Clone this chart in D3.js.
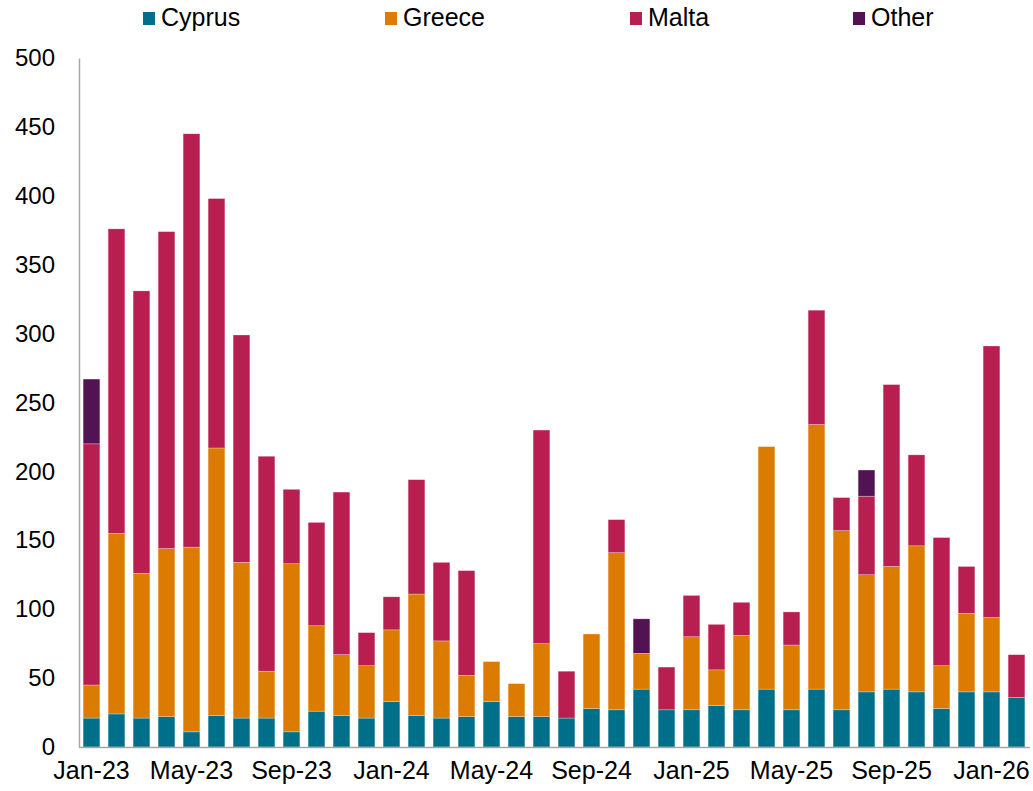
<!DOCTYPE html>
<html>
<head>
<meta charset="utf-8">
<script src="https://cdn.jsdelivr.net/npm/d3@7"></script>
<style>
  html, body { margin: 0; padding: 0; background: #fff; }
  svg { display: block; font-family: "Liberation Sans", Arial, sans-serif; }
</style>
</head>
<body>
<svg id="chart" width="1033" height="791"></svg>
<script>
const months = ["Jan-23","Feb-23","Mar-23","Apr-23","May-23","Jun-23","Jul-23","Aug-23","Sep-23","Oct-23","Nov-23","Dec-23",
  "Jan-24","Feb-24","Mar-24","Apr-24","May-24","Jun-24","Jul-24","Aug-24","Sep-24","Oct-24","Nov-24","Dec-24",
  "Jan-25","Feb-25","Mar-25","Apr-25","May-25","Jun-25","Jul-25","Aug-25","Sep-25","Oct-25","Nov-25","Dec-25",
  "Jan-26","Feb-26"];
const seriesNames = ["Cyprus","Greece","Malta","Other"];
const cyprus = [21,24,21,22,11,23,21,21,11,26,23,21, 33,23,21,22,33,22,22,21,28,27,42,27, 27,30,27,42,27,42,27,40,42,40,28,40, 40,36];
const greece = [24,131,105,122,134,194,113,34,122,62,44,38, 52,88,56,30,29,24,53,0,54,114,26,0, 53,26,54,176,47,192,130,85,89,106,31,57, 54,0];
const malta  = [175,221,205,230,300,181,165,156,54,75,118,24, 24,83,57,76,0,0,155,34,0,24,0,31, 30,33,24,0,24,83,24,57,132,66,93,34, 197,31];
const other  = [47,0,0,0,0,0,0,0,0,0,0,0, 0,0,0,0,0,0,0,0,0,0,25,0, 0,0,0,0,0,0,0,19,0,0,0,0, 0,0];
const yTicks = [0,50,100,150,200,250,300,350,400,450,500];
const xTickLabels = ["Jan-23","May-23","Sep-23","Jan-24","May-24","Sep-24","Jan-25","May-25","Sep-25","Jan-26"];
const colors = ["#006F8A","#DB7B00","#B81F50","#521352"];

const table = months.map((m, i) => ({month: m, Cyprus: cyprus[i], Greece: greece[i], Malta: malta[i], Other: other[i]}));
const stacked = d3.stack().keys(seriesNames)(table);

const svg = d3.select("#chart");
const mLeft = 79, mRight = 1029, mTop = 58, mBottom = 747;

const x = d3.scaleBand().domain(months).range([mLeft, mRight]).paddingInner(0.33).paddingOuter(0.165);
const y = d3.scaleLinear().domain([0, 500]).range([mBottom, mTop]);
const color = d3.scaleOrdinal().domain(seriesNames).range(colors);

// bars
svg.append("g").selectAll("g").data(stacked).join("g")
  .attr("fill", d => color(d.key))
  .selectAll("rect").data(d => d.filter(p => p[1] - p[0] > 0)).join("rect")
  .attr("x", d => x(d.data.month))
  .attr("width", x.bandwidth())
  .attr("y", d => y(d[1]))
  .attr("height", d => y(d[0]) - y(d[1]))
  .attr("stroke", "rgba(255,255,255,0.45)")
  .attr("stroke-width", 0.6);

// y axis
const yAxis = svg.append("g").attr("transform", `translate(${mLeft},0)`)
  .call(d3.axisLeft(y).tickValues(yTicks).tickSize(0).tickPadding(24));
yAxis.select(".domain").attr("stroke", "#a6a6a6").attr("stroke-width", 1.5);
yAxis.selectAll("text").attr("font-size", 24).attr("fill", "#000")
  .attr("font-family", "'Liberation Sans', Arial, sans-serif");

// x axis
const xAxis = svg.append("g").attr("transform", `translate(0,${mBottom})`)
  .call(d3.axisBottom(x).tickValues(xTickLabels).tickSize(0).tickPadding(14).tickSizeOuter(0));
xAxis.select(".domain").attr("stroke", "#a6a6a6").attr("stroke-width", 1.5)
  .attr("d", `M${mLeft},0.5H${mRight + 1}`);
xAxis.selectAll("text").attr("font-size", 25).attr("fill", "#000")
  .attr("font-family", "'Liberation Sans', Arial, sans-serif");

// legend
const legendX = [143, 385, 630, 853];
const legend = svg.append("g").selectAll("g").data(seriesNames).join("g")
  .attr("transform", (d, i) => `translate(${legendX[i]},0)`);
legend.append("rect").attr("x", 0).attr("y", 12).attr("width", 12).attr("height", 13)
  .attr("fill", d => color(d));
legend.append("text").attr("x", 18).attr("y", 26).attr("font-size", 25).attr("fill", "#000")
  .text(d => d);
</script>
</body>
</html>
